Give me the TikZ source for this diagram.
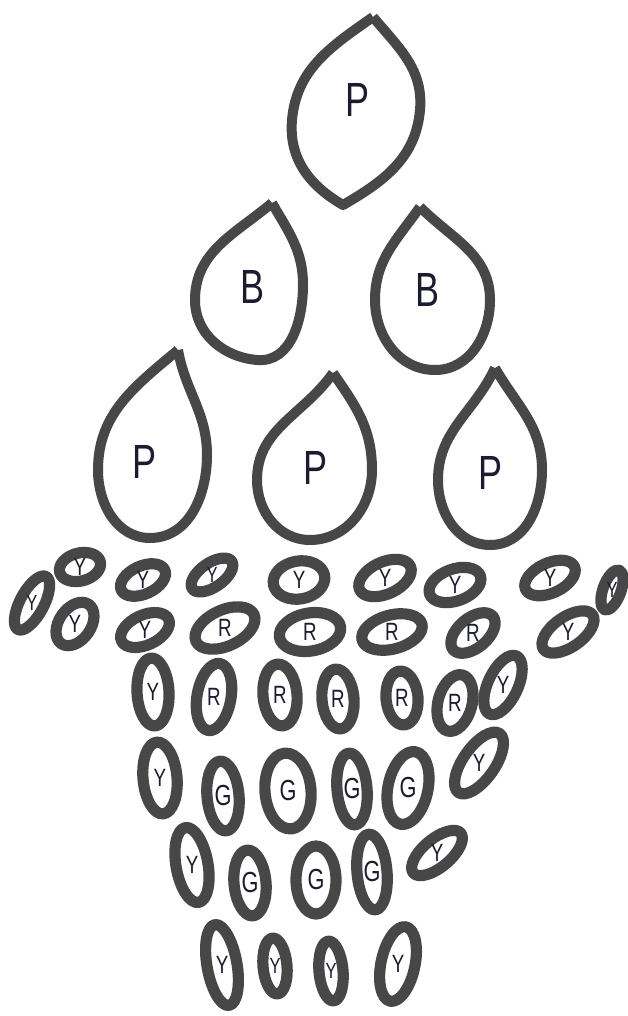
\documentclass[tikz,border=0pt]{standalone}
\usepackage{fontspec}
\setmainfont{Liberation Sans}
\newfontfamily\narrowf{Liberation Sans}[FakeStretch=0.75]
\definecolor{ink}{HTML}{474747}
\definecolor{pen}{HTML}{1C1C30}
\newcommand\bead[8][lbl]{%
  \draw[outline, line width=5.6pt, rotate around={#7:(#3,-#4)}] (#3,-#4) ellipse (#5 and #6);
  \node[#1] (#2) at (#3,-#4) {#8};}
\begin{document}
\begin{tikzpicture}[x=0.5pt,y=0.5pt,
  outline/.style={draw=ink, line width=5pt, line join=round},
  lbl/.style={text=pen, inner sep=0pt, font=\narrowf\fontsize{12.5}{12.5}\selectfont},
  slbl/.style={lbl, font=\narrowf\fontsize{11}{11}\selectfont},
  glbl/.style={lbl, font=\narrowf\fontsize{14.5}{14.5}\selectfont},
  biglbl/.style={lbl, font=\narrowf\fontsize{24}{24}\selectfont}]
\useasboundingbox (0,0) rectangle (627,-1016);
\fill[white] (0,0) rectangle (627,-1016);
% large drops
\draw[outline] (373,-17) to[out=215,in=85] (292,-120) to[out=-95,in=150] (343,-205)
  to[out=30,in=-95] (420,-110) to[out=85,in=-50] (373,-17);
\node[biglbl] (pTop) at (357,-100) {P};
\draw[outline] (272,-203) to[out=220,in=90] (195,-300) to[out=-90,in=175] (257,-360)
  to[out=-5,in=-90] (303,-285) to[out=90,in=-60] (272,-203);
\node[biglbl] (bLeft) at (253,-287) {B};
\draw[outline] (420,-207) to[out=235,in=90] (375,-300) to[out=-90,in=180] (435,-370)
  to[out=0,in=-90] (490,-300) to[out=90,in=-45] (420,-207);
\node[biglbl] (bRight) at (427,-290) {B};
\draw[outline] (178,-350) to[out=220,in=90] (98,-470) to[out=-90,in=180] (150,-538)
  to[out=0,in=-90] (207,-455) to[out=90,in=-80] (178,-350);
\node[biglbl] (pLeft) at (145,-462) {P};
\draw[outline] (333,-373) to[out=235,in=90] (257,-480) to[out=-90,in=180] (310,-540)
  to[out=0,in=-90] (372,-470) to[out=90,in=-55] (333,-373);
\node[biglbl] (pMid) at (316,-468) {P};
\draw[outline] (495,-368) to[out=245,in=90] (438,-480) to[out=-90,in=180] (490,-545)
  to[out=0,in=-90] (542,-470) to[out=90,in=-60] (495,-368);
\node[biglbl] (pRight) at (490,-473) {P};
% row 1
\bead[slbl]{b11}{32}{603}{30}{12}{62}{Y}
\bead{b12}{80}{567}{21}{14}{15}{Y}
\bead{b13}{143}{580}{24}{14}{25}{Y}
\bead[slbl]{b14}{212}{575}{24}{12}{35}{Y}
\bead{b15}{299}{580}{26}{19}{10}{Y}
\bead{b16}{385}{578}{28}{16}{25}{Y}
\bead{b17}{455}{585}{27}{16}{20}{Y}
\bead{b18}{550}{578}{27}{15}{25}{Y}
\bead[slbl]{b19}{612}{590}{21}{9}{70}{Y}
% row 2
\bead{b21}{75}{624}{24}{16}{55}{Y}
\bead{b22}{145}{630}{26}{15}{25}{Y}
\bead{b23}{225}{628}{32}{18}{25}{R}
\bead{b24}{310}{632}{31}{19}{10}{R}
\bead{b25}{392}{632}{31}{17}{15}{R}
\bead{b26}{473}{633}{26}{15}{40}{R}
\bead{b27}{568}{632}{30}{15}{35}{Y}
% row 3
\bead{b31}{153}{692}{34}{16}{93}{Y}
\bead{b32}{214}{697}{34}{17}{80}{R}
\bead{b33}{280}{695}{31}{17}{95}{R}
\bead{b34}{338}{699}{30}{16}{95}{R}
\bead{b35}{402}{698}{27}{16}{95}{R}
\bead{b36}{455}{703}{29}{17}{75}{R}
\bead{b37}{503}{685}{32}{15}{65}{Y}
% row 4
\bead{b41}{160}{778}{36}{17}{95}{Y}
\bead[glbl]{b42}{223}{796}{35}{16}{95}{G}
\bead[glbl]{b43}{288}{791}{38}{23}{95}{G}
\bead[glbl]{b44}{352}{789}{36}{15}{95}{G}
\bead[glbl]{b45}{408}{788}{37}{20}{78}{G}
\bead{b46}{479}{763}{36}{16}{55}{Y}
% row 5
\bead{b51}{192}{865}{38}{16}{100}{Y}
\bead[glbl]{b52}{250}{883}{33}{16}{95}{G}
\bead[glbl]{b53}{316}{880}{34}{20}{90}{G}
\bead[glbl]{b54}{372}{872}{38}{15}{95}{G}
\bead{b55}{437}{853}{31}{14}{40}{Y}
% row 6
\bead{b61}{222}{965}{41}{15}{100}{Y}
\bead[slbl]{b62}{275}{966}{28}{12}{95}{Y}
\bead[slbl]{b63}{331}{971}{30}{12}{95}{Y}
\bead{b64}{398}{964}{38}{17}{78}{Y}
\end{tikzpicture}
\end{document}
